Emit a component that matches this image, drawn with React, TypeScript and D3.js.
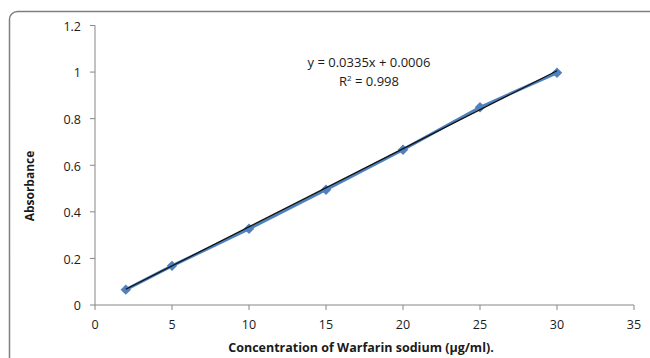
import React from 'react';
import * as d3 from 'd3';

const concentrations = [2, 5, 10, 15, 20, 25, 30];
const absorbance = [0.066, 0.168, 0.327, 0.495, 0.667, 0.849, 0.997];
const xTicks = [0, 5, 10, 15, 20, 25, 30, 35];
const yTicks = [0, 0.2, 0.4, 0.6, 0.8, 1, 1.2];
const slope = 0.0335;
const intercept = 0.0006;

const width = 650;
const height = 358;
const font = "'Open Sans', 'Noto Sans', sans-serif";

export default function App() {
  const x = d3.scaleLinear().domain([0, 35]).range([95, 634]);
  const y = d3.scaleLinear().domain([0, 1.2]).range([305, 25.5]);

  const points = concentrations.map((c, i) => ({ c, a: absorbance[i] }));
  const line = d3
    .line<{ c: number; a: number }>()
    .x((d) => x(d.c))
    .y((d) => y(d.a));

  const x0 = concentrations[0];
  const x1 = concentrations[concentrations.length - 1];
  const trend = [
    { c: x0, a: slope * x0 + intercept },
    { c: x1, a: slope * x1 + intercept },
  ];

  const diamond = d3.symbol().type(d3.symbolDiamond2).size(70)();

  return (
    <svg
      width={width}
      height={height}
      style={{ position: 'absolute', left: 0, top: 0 }}
      fontFamily={font}
    >
      <rect x={9.5} y={11.5} width={680} height={380} rx={8} fill="#fff" stroke="#7f7f7f" strokeWidth={1.5} />

      {/* y axis */}
      <line x1={x(0)} x2={x(0)} y1={y(1.2)} y2={y(0)} stroke="#868686" />
      {yTicks.map((t) => (
        <g key={t}>
          <line x1={x(0) - 5} x2={x(0)} y1={y(t)} y2={y(t)} stroke="#868686" />
          <text x={x(0) - 14} y={y(t) + 1} dy="0.35em" textAnchor="end" fontSize={12.5} fill="#1a1a1a">
            {t}
          </text>
        </g>
      ))}

      {/* x axis */}
      <line x1={x(0)} x2={x(35)} y1={y(0)} y2={y(0)} stroke="#868686" />
      {xTicks.map((t) => (
        <g key={t}>
          <line x1={x(t)} x2={x(t)} y1={y(0)} y2={y(0) + 5} stroke="#868686" />
          <text x={x(t)} y={y(0) + 20} dy="0.35em" textAnchor="middle" fontSize={12.5} fill="#1a1a1a">
            {t}
          </text>
        </g>
      ))}

      <text
        transform="translate(34,186) rotate(-90)"
        textAnchor="middle"
        fontSize={12}
        fontWeight="bold"
        fill="#1a1a1a"
      >
        Absorbance
      </text>
      <text x={361} y={352} textAnchor="middle" fontSize={12.5} fontWeight="bold" fill="#1a1a1a">
        Concentration of Warfarin sodium (µg/ml).
      </text>

      {/* data series */}
      <path d={line(points) ?? ''} fill="none" stroke="#4f81bd" strokeWidth={3} />
      {points.map((p) => (
        <path key={p.c} d={diamond ?? ''} transform={`translate(${x(p.c)},${y(p.a)})`} fill="#4f81bd" />
      ))}

      {/* linear trendline */}
      <path d={line(trend) ?? ''} fill="none" stroke="#111" strokeWidth={1.3} />

      <text x={369} y={62} dy="0.35em" textAnchor="middle" fontSize={13} fill="#1a1a1a">
        y = 0.0335x + 0.0006
      </text>
      <text x={369} y={81} dy="0.35em" textAnchor="middle" fontSize={13} fill="#1a1a1a">
        R<tspan dy="-5" fontSize={8}>2</tspan>
        <tspan dy="5"> = 0.998</tspan>
      </text>
    </svg>
  );
}
